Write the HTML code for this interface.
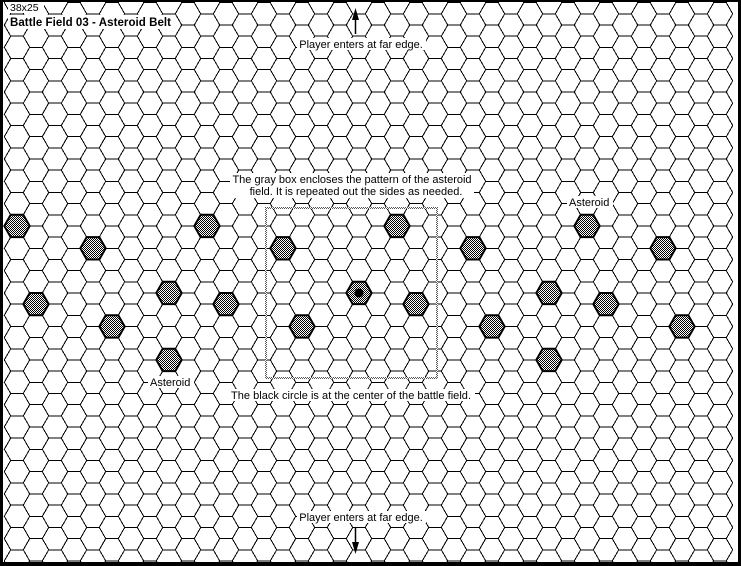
<!DOCTYPE html>
<html><head><meta charset="utf-8"><style>
html,body{margin:0;padding:0;background:#fff;width:741px;height:566px;overflow:hidden;}
#wrap{width:741px;height:566px;overflow:hidden;position:relative;}
svg{display:block;}
text{font-family:"Liberation Sans",sans-serif;font-size:11px;fill:#000;}
</style></head><body>
<div id="wrap">
<svg id="map" width="741" height="566" viewBox="0 0 741 566" xmlns="http://www.w3.org/2000/svg">
<defs>
<pattern id="chk" width="2" height="2" patternUnits="userSpaceOnUse">
<rect width="2" height="2" fill="#fff"/><rect width="1" height="1" fill="#000"/><rect x="1" y="1" width="1" height="1" fill="#000"/>
</pattern>
<pattern id="gchk" width="2" height="2" patternUnits="userSpaceOnUse">
<rect width="2" height="2" fill="#fff"/><rect width="1" height="1" fill="#555"/><rect x="1" y="1" width="1" height="1" fill="#555"/>
</pattern>
<clipPath id="clip"><rect x="0" y="0" width="741" height="566"/></clipPath>
</defs>
<g clip-path="url(#clip)">
<g id="grid" shape-rendering="crispEdges"></g>
<g id="ast"></g>
</g>
<g fill="none" stroke="url(#gchk)" stroke-width="2">
<rect x="266" y="208" width="171" height="170"/>
</g>
<g id="labels">
<rect x="8" y="2" width="36" height="11" fill="#fff"/>
<text x="10" y="11" style="font-size:10.5px">38x25</text>
<rect x="8" y="15" width="167" height="14" fill="#fff"/>
<text x="10" y="26" textLength="161" style="font-weight:bold;font-size:11.5px">Battle Field 03 - Asteroid Belt</text>
<rect x="297" y="38" width="129" height="12" fill="#fff"/>
<text x="361" y="48" text-anchor="middle">Player enters at far edge.</text>
<rect x="297" y="511" width="129" height="12" fill="#fff"/>
<text x="361" y="521" text-anchor="middle">Player enters at far edge.</text>
<rect x="230" y="173" width="244" height="25" fill="#fff"/>
<text x="352" y="183" text-anchor="middle">The gray box encloses the pattern of the asteroid</text>
<text x="356" y="195" text-anchor="middle">field.  It is repeated out the sides as needed.</text>
<rect x="567" y="196" width="46" height="12" fill="#fff"/>
<text x="569" y="206">Asteroid</text>
<rect x="148" y="376" width="46" height="12" fill="#fff"/>
<text x="150" y="386">Asteroid</text>
<rect x="229" y="389" width="246" height="12" fill="#fff"/>
<text x="231" y="399" textLength="240">The black circle is at the center of the battle field.</text>
</g>
<g>
<line x1="355.5" y1="14" x2="355.5" y2="34" stroke="#000" stroke-width="1.5"/>
<polygon points="355.5,8 352,20 359,20" fill="#000"/>
</g>
<g>
<line x1="355.5" y1="528" x2="355.5" y2="548" stroke="#000" stroke-width="1.5"/>
<polygon points="355.5,554 352,542 359,542" fill="#000"/>
</g>
<g fill="#000">
<rect x="0" y="0" width="741" height="2"/>
<rect x="0" y="0" width="3" height="566"/>
<rect x="738" y="0" width="3" height="566"/>
<rect x="0" y="562" width="741" height="4"/>
</g>
</svg>
</div>
<script>
const cols = 38;
const rows = 26;
const asteroidCols = [0,4,10,1,11,5,8,8,14,20,24,30,21,31,25,28,28,34,15,35];
const asteroidRows = [10,11,10,13,13,14,13,16,11,10,11,10,13,13,14,13,16,11,14,14];
const centerCol = [18];
const centerRow = [13];
const R = 12.67, H = 11.17, DX = 19, DY = 22.33, X0 = 17, Y0 = 2.67;
const NS = 'http://www.w3.org/2000/svg';
function cx(c){return X0 + c*DX;}
function cy(c,r){return Y0 + r*DY + (c%2 ? H : 0);}
function hexPts(x,y){
  return [[x-R,y],[x-R/2,y-H],[x+R/2,y-H],[x+R,y],[x+R/2,y+H],[x-R/2,y+H]].map(p=>p[0].toFixed(1)+','+p[1].toFixed(1)).join(' ');
}
const grid = document.getElementById('grid');
for(let c=0;c<cols;c++){
  for(let r=(c%2?-1:0);r<rows;r++){
    const p = document.createElementNS(NS,'polygon');
    p.setAttribute('points',hexPts(cx(c),cy(c,r)));
    p.setAttribute('fill','none');p.setAttribute('stroke','#000');p.setAttribute('stroke-width','1');
    
    
    grid.appendChild(p);
  }
}
const ast = document.getElementById('ast');
for(let i=0;i<asteroidCols.length;i++){
  const c=asteroidCols[i], r=asteroidRows[i];
  const p = document.createElementNS(NS,'polygon');
  p.setAttribute('points',hexPts(cx(c),cy(c,r)));
  p.setAttribute('fill','url(#chk)');p.setAttribute('stroke','#000');p.setAttribute('stroke-width','2');
  
  
  ast.appendChild(p);
}
for(let i=0;i<centerCol.length;i++){
  const c=centerCol[i], r=centerRow[i];
  const p = document.createElementNS(NS,'polygon');
  p.setAttribute('points',hexPts(cx(c),cy(c,r)));
  p.setAttribute('fill','url(#chk)');p.setAttribute('stroke','#000');p.setAttribute('stroke-width','2');
  
  
  ast.appendChild(p);
  const d = document.createElementNS(NS,'circle');
  d.setAttribute('cx',cx(c));d.setAttribute('cy',cy(c,r));d.setAttribute('r','4.5');d.setAttribute('fill','#000');
  
  
  ast.appendChild(d);
}
</script>
</body></html>
